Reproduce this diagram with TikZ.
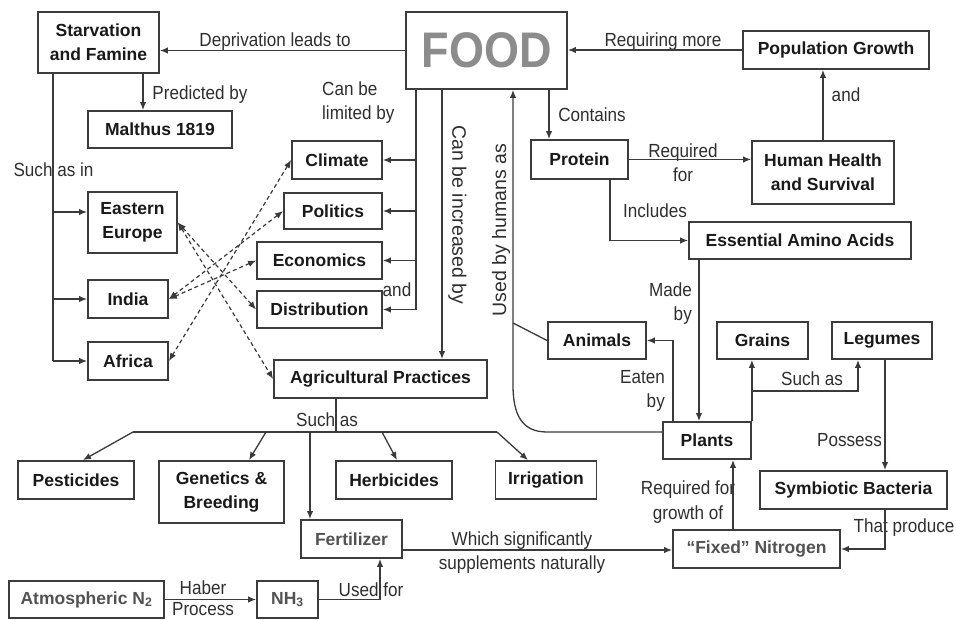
\documentclass[tikz,border=0pt]{standalone}
\usepackage{fontspec}
\setmainfont{Liberation Sans}
\newfontfamily\narrowfont[FakeStretch=0.9]{Liberation Sans}
\usetikzlibrary{arrows.meta}

\begin{document}
\begin{tikzpicture}[x=1pt,y=-1pt,
	box/.style={draw=boxgray,line width=1.8pt,inner sep=2pt,align=center,text=black!90,font=\fontsize{17.5}{24}\selectfont\bfseries},
	softbox/.style={box,text=black!68},
	lbl/.style={inner sep=0pt,align=center,text=black!82,font=\narrowfont\fontsize{19}{24.5}\selectfont},
	vlbl/.style={inner sep=0pt,text=black!82,font=\fontsize{19.5}{24}\selectfont},
	link/.style={draw=linkgray,line width=1.3pt},
	arr/.style={link,-{Latex[length=8pt,width=6.5pt]}},
	dotlink/.style={link,line width=1.2pt,dash pattern=on 4pt off 3pt,{Latex[length=8pt,width=6.5pt]}-{Latex[length=8pt,width=6.5pt]}}]
					\definecolor{boxgray}{HTML}{3C3C3C}
					\definecolor{linkgray}{HTML}{3A3A3A}
					\definecolor{foodgray}{HTML}{8C8C8C}
					\useasboundingbox (0,0) rectangle (956,620);

					\node[box,text=foodgray,minimum width=161,minimum height=77,font=\narrowfont\fontsize{50}{50}\selectfont\bfseries] (food) at (486.5,50.5) {FOOD};
					\node[box,minimum width=121,minimum height=61] (starv) at (98.5,42.5) {Starvation\\and Famine};
					\node[box,minimum width=144,minimum height=37] (malthus) at (160,129.5) {Malthus 1819};
					\node[box,minimum width=90,minimum height=38] (climate) at (337,160) {Climate};
					\node[box,minimum width=98,minimum height=36] (politics) at (333,211) {Politics};
					\node[box,minimum width=125,minimum height=37] (economics) at (319.5,260.5) {Economics};
					\node[box,minimum width=125,minimum height=37] (distrib) at (319.5,309.5) {Distribution};
					\node[box,minimum width=89,minimum height=61] (eeurope) at (132.5,222.5) {Eastern\\Europe};
					\node[box,minimum width=80,minimum height=38] (india) at (128,299) {India};
					\node[box,minimum width=80,minimum height=38] (africa) at (128,361) {Africa};
					\node[box,minimum width=213,minimum height=38] (agri) at (380.5,379) {Agricultural Practices};
					\node[box,minimum width=186,minimum height=38] (popgrowth) at (836,50) {Population Growth};
					\node[box,minimum width=97,minimum height=39] (protein) at (579.5,159.5) {Protein};
					\node[box,minimum width=142,minimum height=63] (health) at (823,172.5) {Human Health\\and Survival};
					\node[box,minimum width=222,minimum height=37] (amino) at (800,240.5) {Essential Amino Acids};
					\node[box,minimum width=98,minimum height=37] (animals) at (597,340.5) {Animals};
					\node[box,minimum width=91,minimum height=37] (grains) at (762.5,340.5) {Grains};
					\node[box,minimum width=100,minimum height=37] (legumes) at (882,340.5) {Legumes};
					\node[box,minimum width=88,minimum height=37] (plants) at (707,440.5) {Plants};
					\node[box,minimum width=187,minimum height=38] (symbio) at (853.5,490) {Symbiotic Bacteria};
					\node[softbox,minimum width=167,minimum height=38] (fixedn) at (756.5,549) {“Fixed” Nitrogen};
					\node[box,minimum width=116,minimum height=38] (pesticides) at (76,480) {Pesticides};
					\node[box,minimum width=125,minimum height=62] (genetics) at (221.5,492) {Genetics \&\\Breeding};
					\node[box,minimum width=116,minimum height=38] (herbicides) at (394,480) {Herbicides};
					\node[box,minimum width=101,minimum height=38] (irrigation) at (546,480) {Irrigation};
					\node[softbox,minimum width=101,minimum height=38] (fertilizer) at (351.5,539) {Fertilizer};
					\node[softbox,minimum width=155,minimum height=37] (atmos) at (86.5,599.5) {Atmospheric N\textsubscript{2}};
					\node[softbox,minimum width=61,minimum height=37] (nh3) at (287.5,599.5) {NH\textsubscript{3}};

					\node[lbl] (deprlbl) at (275,42) {Deprivation leads to};
					\node[lbl] (predlbl) at (200,95) {Predicted by};
					\node[lbl,anchor=west,align=left] (limlbl) at (322,102.5) {Can be\\limited by};
					\node[lbl] (suchinlbl) at (53.5,170) {Such as in};
					\node[lbl] (andlbl) at (397,290) {and};
					\node[vlbl,rotate=-90] (inclbl) at (457.5,215) {Can be increased by};
					\node[vlbl,rotate=90] (usedlbl) at (501,230) {Used by humans as};
					\node[lbl] (reqmorelbl) at (663,42) {Requiring more};
					\node[lbl] (containslbl) at (592,115) {Contains};
					\node[lbl] (reqforlbl) at (683,162.5) {Required\\for};
					\node[lbl] (andpoplbl) at (846,95) {and};
					\node[lbl] (includeslbl) at (655,211) {Includes};
					\node[lbl,anchor=east,align=right] (madelbl) at (692,303.5) {Made\\by};
					\node[lbl,anchor=east,align=right] (eatenlbl) at (665,391) {Eaten\\by};
					\node[lbl] (suchaslbl) at (812,379) {Such as};
					\node[lbl] (possesslbl) at (849.5,440) {Possess};
					\node[lbl] (growthlbl) at (688,502) {Required for\\growth of};
					\node[lbl] (producelbl) at (904,528) {That produce};
					\node[lbl] (supplbl) at (522,552.5) {Which significantly\\supplements naturally};
					\node[lbl,font=\narrowfont\fontsize{19}{21}\selectfont] (haberlbl) at (203,598) {Haber\\Process};
					\node[lbl] (usedforlbl) at (371,590) {Used for};
					\node[lbl] (agrisuchlbl) at (327,420) {Such as};

					\draw[arr] (food.west) -- (food.west -| starv.east);
					\draw[arr] (143,0 |- starv.south) -- (143,0 |- malthus.north);
					\draw[link] (53,0 |- starv.south) -- (53,361);
					\draw[arr] (53,212) -- (53,212 -| eeurope.west);
					\draw[arr] (53,0 |- india.west) -- (india.west);
					\draw[arr] (53,0 |- africa.west) -- (africa.west);
					\draw[arr] (416,0 |- food.south) |- (distrib.east);
					\foreach \n in {climate,politics,economics} \draw[arr] (416,0 |- \n.east) -- (\n.east);
					\draw[arr] (442,0 |- food.south) -- (442,0 |- agri.north);
					\draw[dotlink] (climate.west) -- (africa.east);
					\draw[dotlink] (politics.west) -- (india.east);
					\draw[dotlink] (economics.west) -- (india.east);
					\draw[dotlink] (eeurope.east) -- (distrib.west);
					\draw[dotlink] (eeurope.east) -- (agri.west);

					\draw[arr] (plants.west |- 0,432) -- (547,432) .. controls (522,432) and (513,415) .. (513,385) -- (513,0 |- food.south);
					\draw[link] (animals.west) -- (513,323);
					\draw[arr] (popgrowth.west) -- (popgrowth.west -| food.east);
					\draw[arr] (549,0 |- food.south) -- (549,0 |- protein.north);
					\draw[arr] (protein.east) -- (protein.east -| health.west);
					\draw[arr] (health.north) -- (health.north |- popgrowth.south);
					\draw[arr] (610,0 |- protein.south) |- (amino.west);
					\draw[arr] (699,0 |- amino.south) -- (699,0 |- plants.north);
					\draw[arr] (673,0 |- plants.north) |- (animals.east);
					\draw[arr] (plants.north east) -- (plants.north east |- grains.south);
					\draw[arr] (plants.north east |- 0,391) -| (858,0 |- legumes.south);
					\draw[arr] (885,0 |- legumes.south) -- (885,0 |- symbio.north);
					\draw[arr] (885,0 |- symbio.south) |- (fixedn.east);
					\draw[arr] (733,0 |- fixedn.north) -- (733,0 |- plants.south);
					\draw[arr] (fertilizer.east |- 0,550) -- (fixedn.west |- 0,550);
					\draw[arr] (atmos.east) -- (nh3.west);
					\draw[arr] (nh3.east) -| (380,0 |- fertilizer.south);

					\draw[link] (336,0 |- agri.south) -- (336,432);
					\draw[link] (133,432) -- (497,432);
					\draw[arr] (133,432) -- (83,0 |- pesticides.north);
					\draw[arr] (266,432) -- (249,0 |- genetics.north);
					\draw[arr] (310,432) -- (310,0 |- fertilizer.north);
					\draw[arr] (382,432) -- (397,0 |- herbicides.north);
					\draw[arr] (497,432) -- (528,0 |- irrigation.north);
				\end{tikzpicture}
\end{document}
